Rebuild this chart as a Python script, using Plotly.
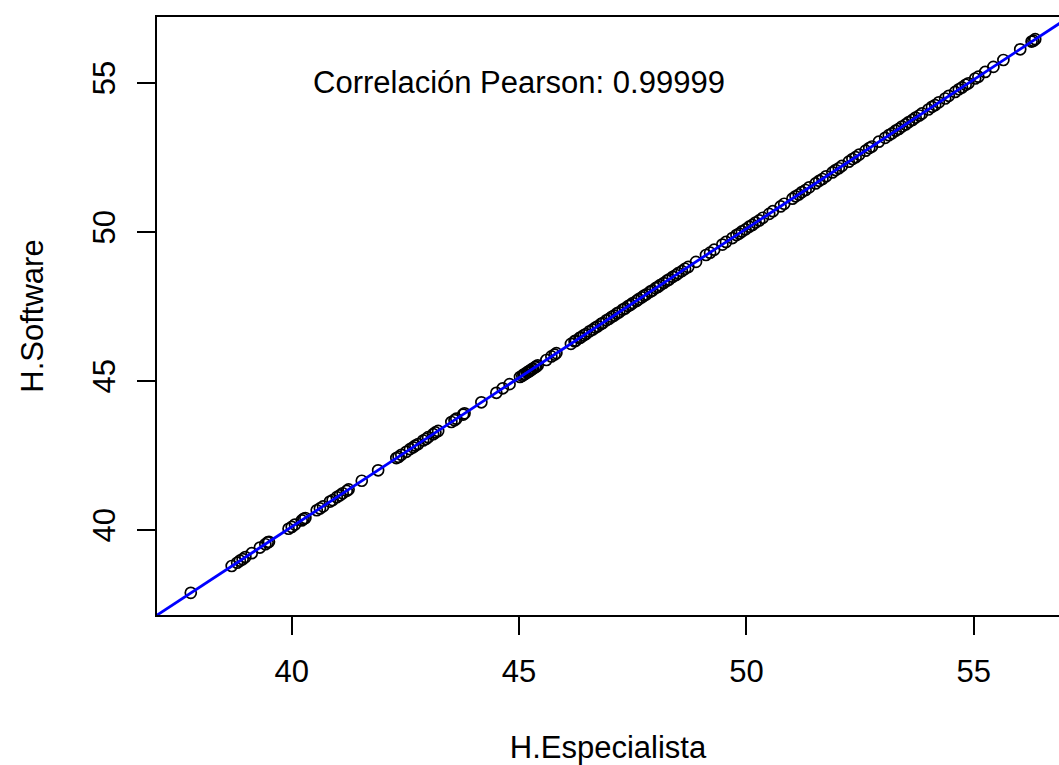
import numpy as np
import plotly.graph_objects as go

# H.Especialista (x) and H.Software (y) values
h_especialista = [
    37.78,
    38.68, 38.80, 38.86, 38.92, 38.98, 39.12, 39.30, 39.42, 39.47, 39.50,
    39.93, 40.00, 40.07, 40.22, 40.26, 40.30,
    40.55, 40.62, 40.69, 40.84, 40.90, 40.99, 41.06, 41.12, 41.21, 41.25,
    41.54, 41.90,
    42.30, 42.35, 42.41, 42.52, 42.60, 42.67, 42.72, 42.78, 42.89, 42.95, 43.00, 43.11, 43.16, 43.22,
    43.51, 43.58, 43.62, 43.77, 43.80,
    44.17, 44.50, 44.64, 44.79,
    45.02, 45.07, 45.10, 45.13, 45.17, 45.20, 45.22, 45.25, 45.28, 45.31, 45.35, 45.38, 45.41,
    45.60, 45.71, 45.78, 45.82,
    46.14, 46.22, 46.25, 46.33, 46.36, 46.42, 46.47, 46.55, 46.62, 46.68, 46.73, 46.80, 46.84, 46.92, 46.98, 47.04, 47.09,
    47.15, 47.20, 47.28, 47.33, 47.40, 47.45, 47.50, 47.58, 47.63, 47.70, 47.75, 47.80, 47.88, 47.93, 48.00, 48.05,
    48.10, 48.18, 48.25, 48.30, 48.38, 48.45, 48.50, 48.58, 48.65, 48.72,
    48.89, 49.11, 49.20, 49.29, 49.47, 49.55, 49.69, 49.78, 49.84, 49.90, 49.98, 50.06, 50.13, 50.20, 50.28, 50.36,
    50.50, 50.58, 50.75, 50.83, 51.01, 51.08, 51.15, 51.22, 51.30, 51.38, 51.52, 51.60, 51.67, 51.75, 51.89, 51.96,
    52.03, 52.10, 52.25, 52.33, 52.40, 52.48, 52.62, 52.70, 52.76, 52.91, 53.05, 53.13, 53.20, 53.28, 53.35, 53.42,
    53.50, 53.57, 53.65, 53.72, 53.80, 53.86, 54.00, 54.08, 54.15, 54.23, 54.37, 54.45, 54.59, 54.67, 54.74, 54.82,
    54.88, 55.03, 55.10, 55.25, 55.43, 55.65, 56.02, 56.27, 56.31, 56.35,
]
h_software = [
    37.89,
    38.79, 38.90, 38.97, 39.02, 39.09, 39.22, 39.41, 39.52, 39.58, 39.60,
    40.04, 40.10, 40.18, 40.32, 40.37, 40.40,
    40.66, 40.72, 40.79, 40.95, 41.00, 41.10, 41.16, 41.23, 41.31, 41.36,
    41.65, 42.00,
    42.41, 42.45, 42.52, 42.62, 42.71, 42.77, 42.83, 42.88, 43.00, 43.05, 43.11, 43.21, 43.27, 43.32,
    43.62, 43.68, 43.73, 43.87, 43.91,
    44.28, 44.60, 44.75, 44.89,
    45.13, 45.17, 45.21, 45.23, 45.28, 45.30, 45.33, 45.35, 45.39, 45.41, 45.46, 45.48, 45.52,
    45.70, 45.82, 45.88, 45.93,
    46.24, 46.33, 46.35, 46.44, 46.46, 46.53, 46.57, 46.66, 46.72, 46.79, 46.83, 46.91, 46.94, 47.03, 47.08, 47.15, 47.19,
    47.26, 47.30, 47.39, 47.43, 47.51, 47.55, 47.61, 47.68, 47.74, 47.80, 47.86, 47.90, 47.99, 48.03, 48.11, 48.15,
    48.21, 48.28, 48.36, 48.40, 48.49, 48.55, 48.61, 48.68, 48.76, 48.82,
    48.99, 49.22, 49.30, 49.40, 49.57, 49.66, 49.79, 49.89, 49.94, 50.01, 50.08, 50.17, 50.23, 50.31, 50.38, 50.47,
    50.60, 50.69, 50.85, 50.94, 51.11, 51.19, 51.25, 51.33, 51.40, 51.49, 51.62, 51.71, 51.77, 51.86, 51.99, 52.07,
    52.13, 52.21, 52.35, 52.44, 52.50, 52.59, 52.72, 52.81, 52.86, 53.02, 53.15, 53.24, 53.30, 53.39, 53.45, 53.53,
    53.60, 53.68, 53.75, 53.83, 53.90, 53.97, 54.10, 54.19, 54.25, 54.34, 54.47, 54.56, 54.69, 54.78, 54.84, 54.93,
    54.98, 55.14, 55.20, 55.36, 55.53, 55.76, 56.12, 56.38, 56.41, 56.46,
]
x_ticks = [40, 45, 50, 55]
y_ticks = [40, 45, 50, 55]
annotation_text = "Correlación Pearson: 0.99999"

x = np.array(h_especialista)
y = np.array(h_software)

# R-style 4% axis padding; the reference image is cropped slightly on the right
xr = x.max() - x.min()
yr = y.max() - y.min()
x_lo, x_hi = x.min() - 0.04 * xr, x.max() + 0.04 * xr
y_lo, y_hi = y.min() - 0.04 * yr, y.max() + 0.04 * yr
x_hi_vis = x_lo + (x_hi - x_lo) * 902 / 912

slope, intercept = np.polyfit(x, y, 1)
line_x = np.array([x_lo - 1, x_hi + 1])
line_y = intercept + slope * line_x

FONT = "Liberation Sans, Arial, sans-serif"

fig = go.Figure()
fig.add_trace(go.Scatter(
    x=x, y=y, mode="markers",
    marker=dict(symbol="circle-open", size=11, color="black", line=dict(width=1.7, color="black")),
    showlegend=False, hoverinfo="x+y",
))
fig.add_trace(go.Scatter(
    x=line_x, y=line_y, mode="lines",
    line=dict(color="#0000FF", width=2.8),
    showlegend=False, hoverinfo="skip",
))

fig.add_annotation(
    x=45, y=55, xref="x", yref="y", text=annotation_text, showarrow=False,
    font=dict(family=FONT, size=31, color="black"), xanchor="center", yanchor="middle",
)

axis_common = dict(
    showgrid=False, zeroline=False, showline=True, linecolor="black", linewidth=1.5,
    ticks="outside", ticklen=18, tickwidth=1.5, tickcolor="black",
    tickfont=dict(family=FONT, size=31, color="black"),
)

fig.update_layout(
    width=1059, height=765,
    margin=dict(l=157, r=0, t=17, b=150),
    paper_bgcolor="white", plot_bgcolor="white",
    xaxis=dict(
        **axis_common, range=[x_lo, x_hi_vis], tickvals=x_ticks, mirror=True,
        ticklabelstandoff=10,
        title=dict(text="H.Especialista", font=dict(family=FONT, size=31, color="black"), standoff=55),
    ),
    yaxis=dict(
        **axis_common, range=[y_lo, y_hi], tickvals=y_ticks, tickangle=-90,
        ticklabelstandoff=10,
        title=dict(text="H.Software", font=dict(family=FONT, size=31, color="black"), standoff=34),
    ),
)

# remove the default 8px page margin so the 1059x765 figure fills the window exactly
fig.write_html(
    "out.html",
    config={"displayModeBar": False},
    post_script="document.body.style.margin='0';document.documentElement.style.overflow='hidden';",
)
